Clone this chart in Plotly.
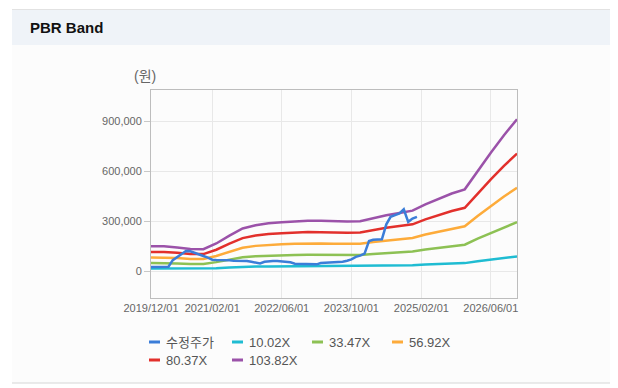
import plotly.graph_objects as go
import pandas as pd

# ---------------- data ----------------
band_dates = pd.date_range("2019-12-01", "2026-12-01", freq="3MS")
price_dates = pd.date_range("2019-12-01", "2025-01-01", freq="MS")

price = [24, 24, 24, 26, 26, 65, 85, 105, 120, 118, 110, 100, 90, 80, 68, 66, 66, 68, 64, 62,
         62, 62, 60, 55, 52, 45, 55, 58, 60, 60, 58, 58, 52, 44, 44, 42, 42, 40, 40, 48,
         50, 52, 52, 52, 56, 62, 70, 85, 92, 104, 180, 187, 188, 190, 280, 325, 335, 345, 370, 295,
         315, 325]
band_10 = [14.3, 14.3, 13.6, 12.7, 12.6, 15.9, 20.5, 24.6, 26.5, 27.7, 28.3, 28.8, 29.1, 29.1, 28.7,
           28.7, 28.8, 30.7, 32.3, 33.6, 34.9, 38.6, 41.7, 44.9, 47.3, 58.1, 68.5, 78.7, 87.8]
band_33 = [47.7, 47.7, 45.5, 42.6, 42.2, 53.2, 68.3, 82.2, 88.7, 92.5, 94.5, 96.1, 97.4, 97.0, 95.8,
           95.8, 96.1, 102.5, 108.0, 112.2, 116.7, 129.0, 139.3, 149.9, 158.0, 194.1, 228.9, 262.7, 293.4]
band_56 = [81.1, 81.1, 77.3, 72.4, 71.8, 90.5, 116.2, 139.8, 150.8, 157.4, 160.6, 163.4, 165.6, 165.0, 162.8,
           162.8, 163.4, 174.3, 183.7, 190.8, 198.5, 219.3, 236.8, 254.9, 268.6, 330.0, 389.3, 446.8, 498.9]
band_80 = [114.6, 114.6, 109.2, 102.2, 101.4, 127.7, 164.1, 197.4, 212.9, 222.2, 226.8, 230.7, 233.8, 233.0, 229.9,
           229.9, 230.7, 246.2, 259.3, 269.4, 280.2, 309.6, 334.4, 360.0, 379.3, 466.0, 549.6, 630.9, 704.4]
band_103 = [148, 148, 141, 132, 131, 165, 212, 255, 275, 287, 293, 298, 302, 301, 297,
            297, 298, 318, 335, 348, 362, 400, 432, 465, 490, 602, 710, 815, 910]

series_names = ["수정주가", "10.02X", "33.47X", "56.92X", "80.37X", "103.82X"]
series_colors = ["#3b7dd8", "#1fbcd2", "#8dc154", "#fdab3a", "#e2302c", "#9b52a9"]

xtick_vals = ["2019-12-01", "2021-02-01", "2022-06-01", "2023-10-01", "2025-02-01", "2026-06-01"]
xtick_text = ["2019/12/01", "2021/02/01", "2022/06/01", "2023/10/01", "2025/02/01", "2026/06/01"]
ytick_vals = [0, 300000, 600000, 900000]
ytick_text = ["0", "300,000", "600,000", "900,000"]

# ---------------- layout geometry ----------------
OFF = 8  # page body margin
W, H = 618 - OFF, 388 - OFF
L, R, T, B = 151 - OFF, 517 - OFF, 90 - OFF, 298 - OFF


def px(x):
    return (x - OFF - L) / (R - L)


def py(y):
    return (B - (y - OFF)) / (B - T)


fig = go.Figure()

bands = [band_10, band_33, band_56, band_80, band_103]
for i, vals in enumerate(bands):
    fig.add_trace(go.Scatter(
        x=band_dates, y=[v * 1000 for v in vals], mode="lines",
        name=series_names[i + 1], line=dict(color=series_colors[i + 1], width=2.5),
        showlegend=False))

fig.add_trace(go.Scatter(
    x=price_dates, y=[v * 1000 for v in price], mode="lines",
    name=series_names[0], line=dict(color=series_colors[0], width=2.5),
    showlegend=False))

shapes = []
annotations = []

# page chrome
shapes.append(dict(type="rect", xref="paper", yref="paper", layer="below",
                   x0=px(12), x1=px(612), y0=py(383), y1=py(45),
                   fillcolor="#fcfcfc", line=dict(width=0)))
shapes.append(dict(type="rect", xref="paper", yref="paper", layer="below",
                   x0=px(12), x1=px(612), y0=py(45), y1=py(10),
                   fillcolor="#eff3f8", line=dict(width=0)))
shapes.append(dict(type="line", xref="paper", yref="paper",
                   x0=px(12), x1=px(612), y0=py(9.5), y1=py(9.5),
                   line=dict(color="#e2e2e2", width=1)))
shapes.append(dict(type="line", xref="paper", yref="paper",
                   x0=px(12), x1=px(618), y0=py(383), y1=py(383),
                   line=dict(color="#d6d6d6", width=1)))

annotations.append(dict(text="<b>PBR Band</b>", xref="paper", yref="paper",
                        x=px(28), y=py(28), xanchor="left", yanchor="middle",
                        showarrow=False, font=dict(size=15, color="#111111",
                                                   family="Liberation Sans, Arial, sans-serif")))
annotations.append(dict(text="(원)", xref="paper", yref="paper",
                        x=px(144.5), y=py(76), xanchor="center", yanchor="middle",
                        showarrow=False, font=dict(size=14, color="#666666",
                                                   family="Liberation Sans, Noto Sans CJK KR, sans-serif")))

# custom legend
leg_pos = [(149, 342), (232, 342), (312, 342), (392, 342), (149, 360), (232, 360)]
for i, (lx, ly) in enumerate(leg_pos):
    shapes.append(dict(type="line", xref="paper", yref="paper",
                       x0=px(lx), x1=px(lx + 11), y0=py(ly), y1=py(ly),
                       line=dict(color=series_colors[i], width=3)))
    annotations.append(dict(text=series_names[i], xref="paper", yref="paper",
                            x=px(lx + 15), y=py(ly), xanchor="left", yanchor="middle",
                            showarrow=False,
                            font=dict(size=13, color="#555555",
                                      family="Liberation Sans, Noto Sans CJK KR, sans-serif")))

fig.update_layout(
    width=W, height=H,
    margin=dict(l=L, r=W - R, t=T, b=H - B, pad=0),
    paper_bgcolor="#ffffff", plot_bgcolor="#ffffff",
    showlegend=False,
    shapes=shapes, annotations=annotations,
    font=dict(family="Liberation Sans, Arial, sans-serif", color="#666666"),
    xaxis=dict(type="date", range=["2019-12-01", "2026-12-01"],
               tickvals=xtick_vals, ticktext=xtick_text,
               tickfont=dict(size=11, color="#666666"),
               showgrid=True, gridcolor="#e8e8e8", gridwidth=1,
               showline=True, linecolor="#bdbdbd", linewidth=1, mirror=True,
               ticks="", zeroline=False, fixedrange=True),
    yaxis=dict(range=[-162000, 1086000], tickvals=ytick_vals, ticktext=ytick_text,
               tickfont=dict(size=11, color="#666666"),
               showgrid=True, gridcolor="#e8e8e8", gridwidth=1,
               showline=True, linecolor="#bdbdbd", linewidth=1, mirror=True,
               ticks="outside", ticklen=6, tickcolor="#c8c8c8", tickwidth=1,
               zeroline=False, fixedrange=True),
)

fig.write_html("out.html")
